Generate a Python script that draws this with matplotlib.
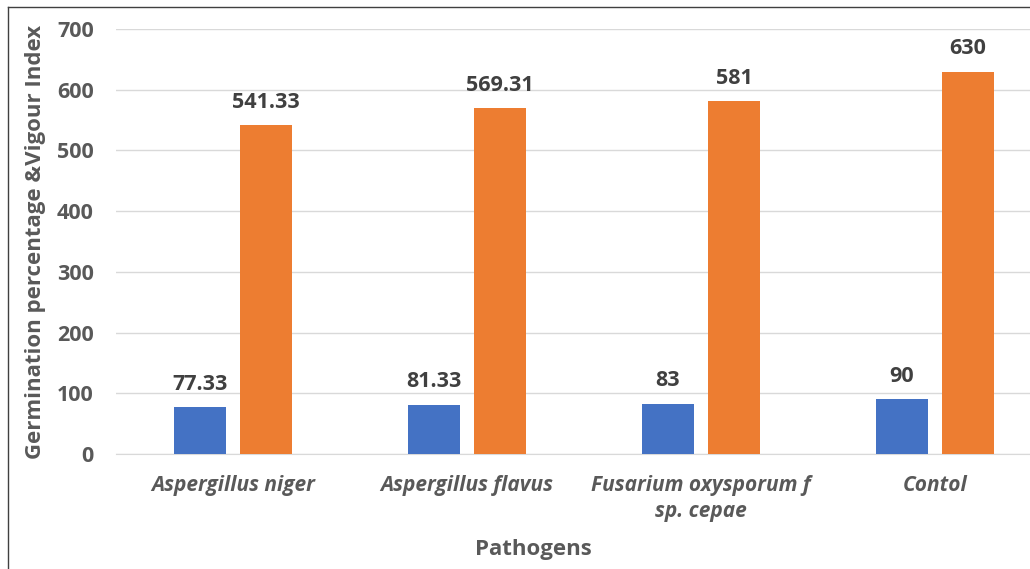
import matplotlib.pyplot as plt
import numpy as np
from matplotlib.lines import Line2D

# Data
pathogens = ["Aspergillus niger", "Aspergillus flavus", "Fusarium oxysporum f\nsp. cepae", "Contol"]
germination = [77.33, 81.33, 83, 90]
vigour = [541.33, 569.31, 581, 630]
germ_labels = ["77.33", "81.33", "83", "90"]
vig_labels = ["541.33", "569.31", "581", "630"]

plt.rcParams["font.family"] = ["Open Sans", "DejaVu Sans"]
grey = "#595959"

fig = plt.figure(figsize=(10.3, 5.69), dpi=100)
ax = fig.add_axes([116 / 1030, 115 / 569, 914 / 1030, 425 / 569])

x = np.arange(len(pathogens))
w = 0.222
off = 0.141
b1 = ax.bar(x - off, germination, w, color="#4472C4", zorder=3)
b2 = ax.bar(x + off, vigour, w, color="#ED7D31", zorder=3)

ax.bar_label(b1, labels=germ_labels, padding=9, fontsize=15.5, fontweight="bold", color="#404040")
ax.bar_label(b2, labels=vig_labels, padding=9, fontsize=15.5, fontweight="bold", color="#404040")

ax.set_xlim(-0.5, 3.406)
ax.set_ylim(0, 700)
ax.set_yticks(range(0, 701, 100))
ax.grid(axis="y", color="#D9D9D9", linewidth=1, zorder=0)
for s in ["top", "right", "left"]:
    ax.spines[s].set_visible(False)
ax.spines["bottom"].set_color("#D9D9D9")

ax.tick_params(axis="both", length=0)
ax.tick_params(axis="y", pad=16, labelsize=15.5, labelcolor=grey)
ax.tick_params(axis="x", pad=15, labelsize=15, labelcolor=grey)
for t in ax.get_yticklabels():
    t.set_fontweight("bold")
ax.set_xticks(x)
ax.set_xticklabels(pathogens, fontstyle="italic", fontweight="bold", linespacing=1.3)

ax.set_ylabel("Germination percentage &Vigour Index", fontsize=16, fontweight="bold", color=grey, labelpad=8)
fig.text(533 / 1030, 1 - 550 / 569, "Pathogens", fontsize=16, fontweight="bold", color=grey, ha="center", va="center")

# outer border (left and top)
fig.add_artist(Line2D([8 / 1030, 8 / 1030], [0, 1 - 7 / 569], color="#404040", linewidth=1, transform=fig.transFigure))
fig.add_artist(Line2D([8 / 1030, 1], [1 - 7 / 569, 1 - 7 / 569], color="#404040", linewidth=1, transform=fig.transFigure))

plt.savefig("out.png", dpi=100)
